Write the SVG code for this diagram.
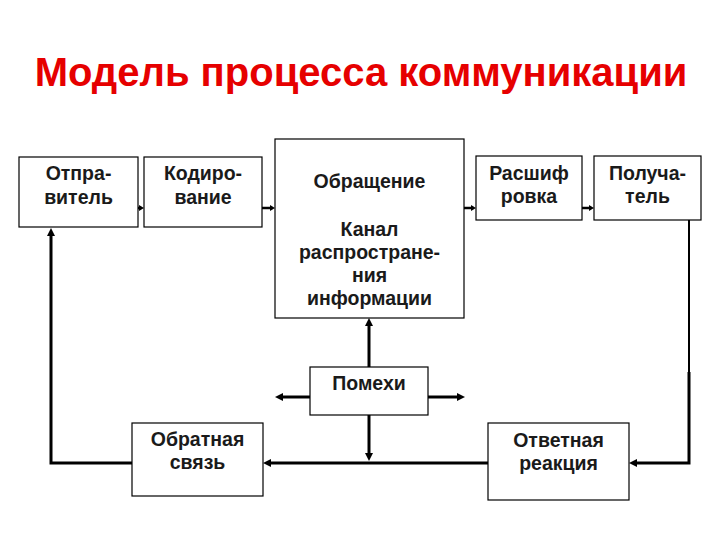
<svg xmlns="http://www.w3.org/2000/svg" width="720" height="540" viewBox="0 0 720 540">
<style>
.box{fill:#fff;stroke:#000;stroke-width:1.2}
.t{font-family:"Liberation Sans",Arial,sans-serif;font-size:19.5px;font-weight:bold;fill:#1a1a1a;text-anchor:middle}
.title{font-family:"Liberation Sans",Arial,sans-serif;font-size:40px;font-weight:bold;fill:#e60000;text-anchor:middle}
.c{fill:none;stroke:#000;stroke-width:3}
.cs{fill:none;stroke:#000;stroke-width:2.5}
.thin{fill:none;stroke:#000;stroke-width:2}
</style>
<defs>
<marker id="ah" viewBox="0 0 8 8" refX="0" refY="4" markerWidth="8" markerHeight="8" markerUnits="userSpaceOnUse" orient="auto"><path d="M0,0 L8,4 L0,8 z" fill="#000"/></marker>
<marker id="ahs" viewBox="0 0 5 6" refX="0" refY="3" markerWidth="5" markerHeight="6" markerUnits="userSpaceOnUse" orient="auto"><path d="M0,0 L5,3 L0,6 z" fill="#000"/></marker>
</defs>
<rect width="720" height="540" fill="#fff"/>
<text class="title" x="361" y="86">Модель процесса коммуникации</text>

<g id="connectors">
<path class="cs" d="M137,208 H139" marker-end="url(#ahs)"/>
<path class="cs" d="M262,208 H270" marker-end="url(#ahs)"/>
<path class="cs" d="M464,208 H471" marker-end="url(#ahs)"/>
<path class="cs" d="M582,208 H589" marker-end="url(#ahs)"/>
<path class="thin" d="M689,220 V372"/>
<path class="c" d="M689,372 V463 H637" marker-end="url(#ah)"/>
<path class="c" d="M488,463 H271" marker-end="url(#ah)"/>
<path class="c" d="M369,415 V453" marker-end="url(#ah)"/>
<path class="c" d="M369,367 V326" marker-end="url(#ah)"/>
<path class="c" d="M310,397 H283" marker-end="url(#ah)"/>
<path class="c" d="M428,397 H457" marker-end="url(#ah)"/>
<path class="c" d="M132,463 H51 V236" marker-end="url(#ah)"/>
</g>

<g id="sender"><rect class="box" x="19" y="157" width="119" height="70"/>
<text class="t" x="78.5" y="180">Отпра-</text><text class="t" x="78.5" y="204">витель</text></g>
<g id="encoding"><rect class="box" x="144" y="157" width="118" height="70"/>
<text class="t" x="203" y="180">Кодиро-</text><text class="t" x="203" y="204">вание</text></g>
<g id="channel"><rect class="box" x="275" y="139" width="189" height="179"/>
<text class="t" x="369.5" y="188">Обращение</text>
<text class="t" x="369.5" y="236">Канал</text>
<text class="t" x="369.5" y="259">распростране-</text>
<text class="t" x="369.5" y="282">ния</text>
<text class="t" x="369.5" y="305">информации</text></g>
<g id="decoding"><rect class="box" x="476" y="156" width="106" height="64"/>
<text class="t" x="529" y="180">Расшиф</text><text class="t" x="529" y="203">ровка</text></g>
<g id="receiver"><rect class="box" x="594" y="156" width="107" height="64"/>
<text class="t" x="647.5" y="180">Получа-</text><text class="t" x="647.5" y="203">тель</text></g>
<g id="noise"><rect class="box" x="310" y="367" width="118" height="48"/>
<text class="t" x="369" y="390">Помехи</text></g>
<g id="feedback"><rect class="box" x="132" y="423" width="131" height="73"/>
<text class="t" x="197.5" y="446">Обратная</text><text class="t" x="197.5" y="469">связь</text></g>
<g id="response"><rect class="box" x="488" y="423" width="141" height="77"/>
<text class="t" x="558.5" y="447">Ответная</text><text class="t" x="558.5" y="470">реакция</text></g>
</svg>
